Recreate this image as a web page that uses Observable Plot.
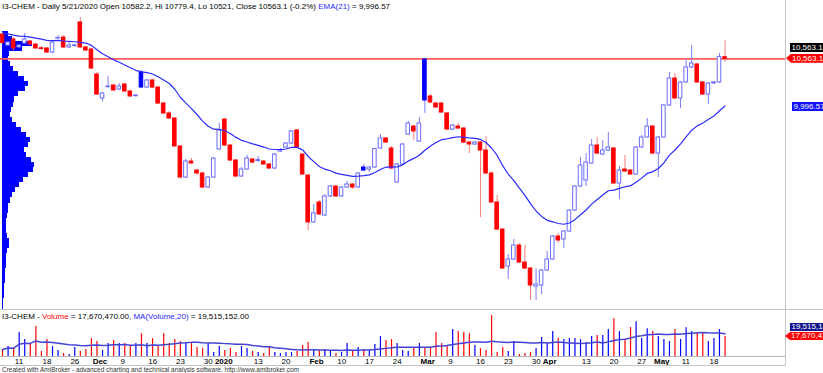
<!DOCTYPE html>
<html><head><meta charset="utf-8">
<script src="https://cdn.jsdelivr.net/npm/d3@7"></script>
<script src="https://cdn.jsdelivr.net/npm/@observablehq/plot@0.6"></script>
<style>
body{margin:0;background:#fff;}
#c{position:relative;width:823px;height:373px;overflow:hidden;background:#fff;font-family:"Liberation Sans",Arial,sans-serif;}
#c svg{position:absolute;left:0;}
.t{position:absolute;white-space:nowrap;font-size:8px;line-height:9px;color:#000;}
.lab{position:absolute;height:9px;line-height:9px;font-size:8px;color:#fff;white-space:nowrap;}
.ln{position:absolute;background:#c4c4c4;}
</style></head><body><div id="c"></div>
<script>
// ---- data (I3-CHEM daily, 7 Nov 2019 .. 21 May 2020) ----
const open = [10852,10721,10793,10698,10745,10769,10733,10688,10686,10638,
10805,10816,10698,10715,10995,10698,10674,10377,10092,10228,
10246,10199,10258,10175,10121,10401,10222,10306,10222,10032,
9914,9854,9522,9153,9343,9236,9201,9034,9153,9486,
9842,9533,9355,9165,9248,9367,9349,9343,9308,9260,
9462,9510,9557,9712,9426,9177,8619,8856,8702,8928,
9046,8928,9034,9070,9034,9272,9248,9272,9498,9617,
9498,9094,9308,9664,9759,9581,10555,10116,10032,10032,
9914,9723,9759,9735,9569,9545,9569,9474,9201,8856,
8535,8096,8179,8345,8143,8072,7858,7870,8048,8179,
8452,8417,8512,8761,9046,9118,9320,9533,9426,9474,
9498,9082,9248,9236,9189,9510,9628,9759,9438,9628,
10009,10329,10092,10282,10460,10496,10282,10139,10270,10282,
10582.2];
const high = [10876,10769,10816,10733,10864,10781,10745,10710,10698,10769,
10840,10840,10757,10733,11054,10710,10686,10401,10163,10353,
10258,10270,10270,10187,10139,10424,10318,10318,10234,10044,
9937,9866,9533,9367,9379,9248,9213,9165,9391,9795,
9854,9545,9367,9272,9415,9379,9403,9355,9320,9438,
9498,9569,9712,9723,9438,9189,8832,8880,8951,9058,
9058,9046,9106,9082,9213,9308,9284,9498,9664,9628,
9522,9320,9557,9818,9771,9866,10567,10139,10044,10044,
9925,9783,9795,9747,9581,9581,9581,9640,9213,8939,
8547,8238,8417,8369,8345,8084,8072,8060,8274,8464,
8488,8524,8773,9058,9391,9438,9605,9628,9593,9688,
9510,9284,9415,9248,9522,9652,9854,9771,9640,10020,
10401,10389,10294,10555,10721,10508,10294,10282,10294,10626,
10779.4];
const low = [10745,10710,10662,10686,10733,10721,10674,10662,10626,10626,
10793,10686,10686,10698,10686,10650,10436,10127,10056,10211,
10175,10187,10163,10104,10104,10211,10211,10211,10020,9902,
9842,9510,9141,9141,9308,9177,9023,9023,9141,9474,
9522,9343,9153,9153,9236,9320,9331,9296,9248,9248,
9450,9498,9545,9498,9177,8524,8607,8702,8690,8916,
8916,8916,9023,9011,9023,9224,9213,9260,9486,9557,
9248,9082,9296,9652,9593,9569,9914,10032,9973,9914,
9712,9712,9723,9557,9438,9533,8678,9189,8844,8524,
8060,7941,8167,8132,8060,7692,7692,7763,8037,8167,
8369,8310,8500,8749,9034,9046,9308,9426,9415,9462,
9070,8892,9213,9177,9177,9498,9617,9426,9153,9617,
9997,10080,9973,10270,10448,10270,10127,10020,10258,10270,
10521];
const close = [10751,10757,10686,10721,10793,10733,10686,10679,10638,10757,
10810,10698,10721,10724,10698,10662,10448,10139,10151,10234,
10187,10234,10175,10116,10127,10222,10306,10222,10032,9914,
9854,9522,9153,9343,9320,9201,9034,9153,9379,9712,
9533,9355,9165,9248,9379,9331,9361,9308,9260,9426,
9480,9557,9700,9510,9189,8619,8726,8714,8928,9046,
8928,9034,9070,9034,9201,9236,9272,9492,9617,9569,
9260,9308,9545,9795,9700,9795,10068,10044,9985,9925,
9723,9771,9735,9569,9545,9569,9474,9201,8856,8535,
8072,8179,8345,8143,8072,7870,7882,8048,8179,8452,
8405,8512,8761,9046,9296,9331,9533,9438,9474,9510,
9082,9236,9224,9189,9510,9628,9759,9438,9628,10009,
10329,10092,10282,10460,10508,10282,10139,10270,10282,10584,
10563.1];
// volume in millions
const volume = [6.2,8.8,7.0,21.1,15.0,11.4,26.4,4.4,15.0,8.8,
5.3,2.6,1.8,7.9,4.4,6.2,15.8,13.2,5.3,11.4,
14.1,11.4,11.4,8.8,11.4,20.2,11.4,15.8,9.7,20.2,
11.4,15.0,13.2,12.3,11.4,7.9,7.0,11.4,3.5,8.8,
5.3,7.0,3.5,8.8,7.0,4.4,3.5,2.6,7.9,3.5,
2.6,3.5,3.5,4.4,9.7,12.3,6.2,5.3,6.2,5.3,
2.6,3.5,11.4,5.3,7.9,6.2,5.3,10.6,17.6,14.1,
15.0,11.4,5.3,4.4,7.0,11.4,7.9,7.0,21.1,11.4,
9.7,23.8,22.0,21.1,20.2,9.7,7.0,5.3,36.1,3.5,
7.9,4.4,13.2,1.8,2.6,3.5,7.0,16.7,11.4,22.0,
15.8,15.0,15.8,15.8,15.0,12.3,17.6,18.5,18.5,23.8,
33.4,22.0,15.0,25.5,30.8,15.8,24.6,22.0,17.6,15.0,
13.2,23.8,15.0,25.5,22.0,21.1,21.1,13.2,15.8,23.8,
17.67047];
const emaSeed = 10870;          // EMA(21) level at the first visible bar
const emaLast = 9996.57;        // EMA(21) value shown in the title
const volMaLast = 19515152;     // MA(Volume,20) shown in the title
const volLast = 17670470;       // last volume shown in the title
// price-volume distribution (bin top price, relative volume)
const profileTop = [10890,10830,10770,10710,10650,10590,10530,10470,10410,10350,10290,10230,10170,10110,10050,9990,9930,9870,9810,9750,9690,9630,9570,9510,9450,9390,9330,9270,9210,9150,9090,9030,8970,8910,8850,8790,8730,8670,8610,8550,8490,8430,8370,8310,8250,8190,8130,8070,8010,7950,7890,7830,7770,7710,7650];
const profileVol = [6,10,30,20,7,6,8,11,16,22,26,23,16,12,11,9,8,10,14,19,24,28,26,22,24,29,32,31,26,21,17,13,10,8,6,6,5,4,4,4,5,7,7,5,4,4,4,3,3,3,2,2,2,1,0.5];
const profileStep = 60;
// x-axis ticks (bar index) and labels
const tickIndex = [2,7,12,16,21,26,31,36,38,45,50,55,60,65,70,75,80,85,90,95,97,104,109,114,117,122,127];
const tickLabel = ["11","18","26","Dec","9","16","23","30","2020","13","20","Feb","10","17","24","Mar","9","16","23","30","Apr","13","20","27","May","11","18"];

// ---- derived series ----
const alpha = 2 / 22;
let e = emaSeed;
const bars = open.map((o, i) => {
  if (i > 0) e = e + alpha * (close[i] - e);
  const from = Math.max(0, i - 19);
  const ma = d3.mean(volume.slice(from, i + 1));
  return {i, o, h: high[i], l: low[i], c: close[i], v: volume[i], ema: e, ma,
          blue: i > 0 && close[i] > close[i - 1], filled: close[i] < open[i]};
});

const font = '"Liberation Sans", Arial, sans-serif';
const xDomain = [-0.36, 140.88];
const root = document.getElementById("c");
const BLUE = "#0000ff", RED = "#ff0000";

// profile (under the candles)
const prof = Plot.plot({
  width: 60, height: 309, margin: 0,
  style: {background: "transparent"},
  x: {domain: [0, 58], range: [2, 60], axis: null},
  y: {domain: [7597, 11256], range: [308, 0], axis: null},
  marks: [
    Plot.rect(profileTop.map((t, k) => ({t, v: profileVol[k]})),
      {x1: 0, x2: "v", y1: d => d.t - profileStep, y2: "t", fill: BLUE, shapeRendering: "crispEdges"})
  ]
});
prof.style.top = "0px";
root.appendChild(prof);

// price pane
const P = Plot.plot({
  width: 823, height: 309, margin: 0,
  style: {background: "transparent"},
  x: {domain: xDomain, range: [0, 785], axis: null},
  y: {domain: [7597, 11256], range: [308, 0], axis: null},
  marks: [
    Plot.ruleY([close[close.length - 1]], {y: d => d, x1: xDomain[0], x2: xDomain[1], stroke: "#ff5c5c", strokeWidth: 1.6}),
    Plot.ruleX(bars, {x: "i", y1: "l", y2: "h", stroke: d => d.blue ? "#7c7cff" : "#ff7c7c", strokeWidth: 1}),
    Plot.rect(bars, {x1: d => d.i - 0.32, x2: d => d.i + 0.32, y1: "o", y2: "c",
      fill: d => d.filled ? (d.blue ? BLUE : RED) : "white",
      stroke: d => d.filled ? (d.blue ? BLUE : RED) : (d.blue ? "#6c6cff" : "#ff6c6c"), strokeWidth: 1}),
    Plot.line(bars, {x: "i", y: "ema", stroke: "#2a2aff", strokeWidth: 1.2})
  ]
});
P.style.top = "0px";
root.appendChild(P);

// volume pane
const labelOf = new Map(tickIndex.map((t, k) => [t, tickLabel[k]]));
const isBold = l => /[A-Za-z]/.test(l) || l.length === 4;
const numTicks = tickIndex.filter((t, k) => !isBold(tickLabel[k]));
const boldTicks = tickIndex.filter((t, k) => isBold(tickLabel[k]));
const V = Plot.plot({
  width: 823, height: 56, marginTop: 0, marginBottom: 10, marginLeft: 0, marginRight: 38,
  style: {background: "transparent", fontFamily: font, fontSize: "8px", color: "#000"},
  x: {domain: xDomain, range: [0, 785], axis: null},
  y: {domain: [0, 40.64], range: [46, 0], axis: null},
  marks: [
    Plot.ruleY([0], {x1: xDomain[0], x2: xDomain[1], stroke: "#b8b8b8"}),
    Plot.ruleX(bars, {x: "i", y1: 0, y2: "v", stroke: d => d.c >= d.o ? BLUE : RED, strokeWidth: 1.2}),
    Plot.line(bars, {x: "i", y: "ma", stroke: "#4444d4", strokeWidth: 1.5}),
    Plot.axisX(numTicks, {tickFormat: t => labelOf.get(t), tickSize: 0, tickPadding: 2, textAnchor: "start", dx: 1.2, fontSize: 8, label: null}),
    Plot.axisX(boldTicks, {tickFormat: t => labelOf.get(t), tickSize: 0, tickPadding: 2, textAnchor: "start", dx: 1.2, fontSize: 8, fontWeight: "bold", label: null})
  ]
});
V.style.top = "310px";
root.appendChild(V);

// frame lines
function line(l, t, w, h) { const d = document.createElement("div"); d.className = "ln"; Object.assign(d.style, {left: l + "px", top: t + "px", width: w + "px", height: h + "px"}); root.appendChild(d); }
line(785, 0, 1, 366);
line(0, 309, 823, 1);
line(0, 365, 786, 1);

// texts
const f1 = d3.format(",.1f"), f2 = d3.format(",.2f");
const n = close.length - 1;
const chg = (close[n] - close[n - 1]) / close[n - 1] * 100;
function text(html, l, t, extra) { const d = document.createElement("div"); d.className = "t"; d.innerHTML = html; d.style.left = l + "px"; d.style.top = t + "px"; if (extra) Object.assign(d.style, extra); root.appendChild(d); return d; }
text(`I3-CHEM - Daily 5/21/2020 Open ${open[n]}, Hi ${high[n]}, Lo ${low[n]}, Close ${close[n]} (${chg.toFixed(1)}%) <span style="color:#2a2aff">EMA(21)</span> = ${f2(emaLast)}`, 2, 1.5);
text(`I3-CHEM - <span style="color:#ff0000">Volume</span> = ${f2(volLast)}, <span style="color:#2a2aff">MA(Volume,20)</span> = ${f2(volMaLast)}`, 2, 311.5);
text(`Created with AmiBroker - advanced charting and technical analysis software. http://www.amibroker.com`, 2, 366, {fontSize: "6.5px", lineHeight: "7px", color: "#333"});

// value labels on the right
function lab(txt, l, t, bg, arrow, h) {
  const d = document.createElement("div"); d.className = "lab"; d.textContent = txt;
  Object.assign(d.style, {left: l + "px", top: t + "px", background: bg, width: (830 - l) + "px", paddingLeft: (arrow ? 6 : 1.5) + "px", height: (h || 9) + "px", lineHeight: (h || 9) + "px"});
  if (arrow) d.style.clipPath = "polygon(0 50%, 5px 0, 100% 0, 100% 100%, 5px 100%)";
  root.appendChild(d);
}
const yP = P.scale("y"), yV = V.scale("y");
const cy = yP.apply(close[n]);
lab(f1(close[n]), 790, cy - 15.5, "#000", false);
lab(f1(close[n]), 786, cy - 4.5, "#ff0000", true);
lab(f2(emaLast), 792, yP.apply(emaLast) - 4.5, "#1010ff", false);
const vy = 310 + yV.apply(volLast / 1e6);
const my = 310 + yV.apply(volMaLast / 1e6);
lab(f2(volLast), 785, vy - 4, "#ff0000", true, 8);
lab(f2(volMaLast), 790, Math.min(my - 4, vy - 13), "#14148c", false, 8);
</script></body></html>
